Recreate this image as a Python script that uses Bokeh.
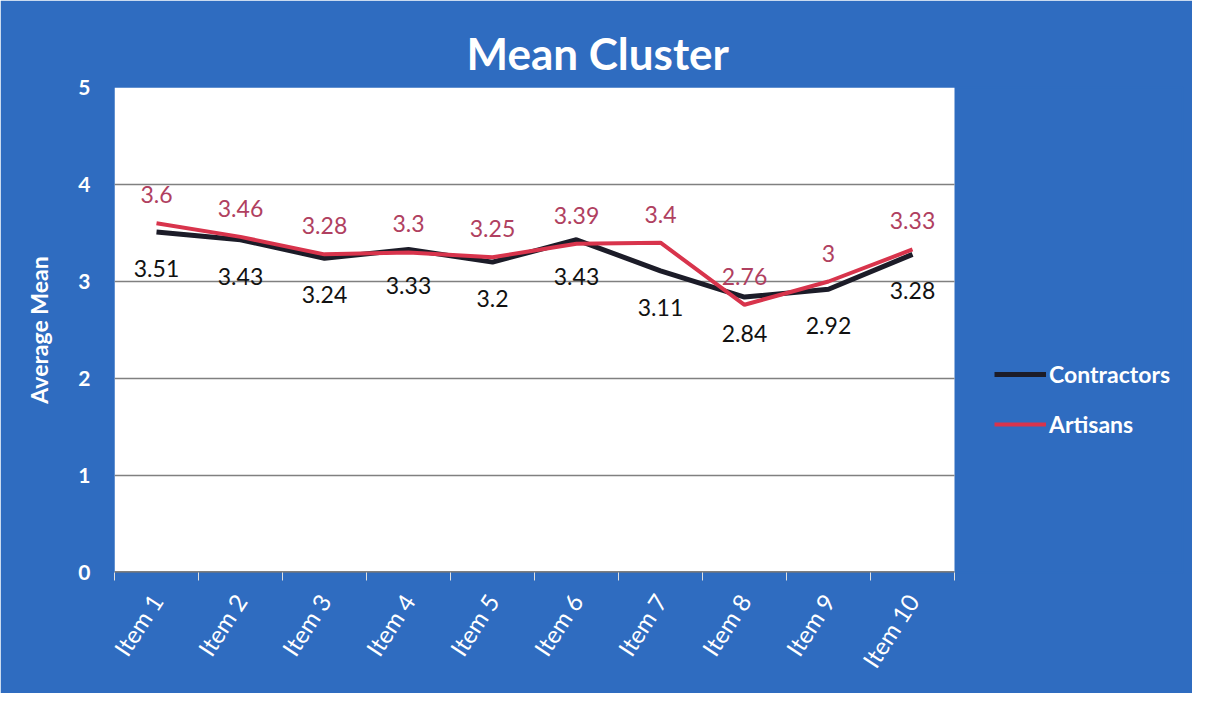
import math
from bokeh.plotting import figure
from bokeh.models import Range1d, FixedTicker, Legend, LegendItem, ColumnDataSource
from bokeh.core.properties import value
from bokeh.embed import file_html
from bokeh.resources import INLINE

items = ["Item 1", "Item 2", "Item 3", "Item 4", "Item 5",
         "Item 6", "Item 7", "Item 8", "Item 9", "Item 10"]
contractors = [3.51, 3.43, 3.24, 3.33, 3.2, 3.43, 3.11, 2.84, 2.92, 3.28]
artisans = [3.6, 3.46, 3.28, 3.3, 3.25, 3.39, 3.4, 2.76, 3.0, 3.33]
y_ticks = [0, 1, 2, 3, 4, 5]

FONT = "Lato"
BG = "#2f6cc0"

xs = list(range(1, len(items) + 1))
x_lo, x_hi = 0.5, len(items) + 0.5
y_lo, y_hi = y_ticks[0], y_ticks[-1]

# frame: white plot area 840 px wide, frame extends right to hold the legend
PLOT_W, FRAME_W = 840, 1068
x_end = x_lo + (x_hi - x_lo) * FRAME_W / PLOT_W

def fmt(v):
    return f"{v:g}"

src = ColumnDataSource(dict(
    x=xs, c=contractors, a=artisans,
    cl=[fmt(v) for v in contractors], al=[fmt(v) for v in artisans],
))

p = figure(width=1192, height=693, output_backend="svg", toolbar_location=None,
           x_range=Range1d(x_lo, x_end), y_range=Range1d(y_lo, y_hi),
           min_border_left=114, min_border_right=1192 - 114 - FRAME_W,
           min_border_top=87, min_border_bottom=121)

p.border_fill_color = BG
p.background_fill_color = BG
p.outline_line_color = BG
p.outline_line_width = 2

p.title.text = "Mean Cluster"
p.title.text_color = "white"
p.title.text_font = FONT
p.title.text_font_size = "44px"
p.title.text_font_style = "bold"
p.title.align = "left"
p.title.offset = 352
p.title.standoff = 18

# white plot area
p.quad(left=[x_lo], right=[x_hi], bottom=[y_lo], top=[y_hi],
       fill_color="white", line_color=None)

# horizontal gridlines within the plot area
grid_y = y_ticks[1:-1]
p.segment(x0=[x_lo] * len(grid_y), x1=[x_hi] * len(grid_y), y0=grid_y, y1=grid_y,
          line_color="#808080", line_width=1.3)
# x axis line
p.segment(x0=[x_lo], x1=[x_hi], y0=[y_lo], y1=[y_lo], line_color="#555555", line_width=2.5)

# axes
p.xaxis.ticker = FixedTicker(ticks=xs, minor_ticks=[x - 0.5 for x in xs] + [xs[-1] + 0.5])
p.xaxis.major_label_overrides = {x: lab for x, lab in zip(xs, items)}
p.xaxis.major_label_orientation = math.radians(57)
p.xaxis.major_label_text_color = "white"
p.xaxis.major_label_text_font = FONT
p.xaxis.major_label_text_font_size = "24px"
p.xaxis.major_label_standoff = 16
p.xaxis.major_tick_line_color = None
p.xaxis.minor_tick_line_color = "#e0e0e0"
p.xaxis.minor_tick_out = 8
p.xaxis.minor_tick_in = 0
p.xaxis.axis_line_color = None

p.yaxis.ticker = FixedTicker(ticks=y_ticks)
p.yaxis.axis_label = "Average Mean"
p.yaxis.axis_label_text_color = "white"
p.yaxis.axis_label_text_font = FONT
p.yaxis.axis_label_text_font_size = "23px"
p.yaxis.axis_label_text_font_style = "bold"
p.yaxis.axis_label_standoff = 22
p.yaxis.major_label_text_color = "white"
p.yaxis.major_label_text_font = FONT
p.yaxis.major_label_text_font_size = "21px"
p.yaxis.major_label_text_font_style = "bold"
p.yaxis.major_label_standoff = 18
p.yaxis.axis_line_color = None
p.yaxis.major_tick_line_color = None
p.yaxis.minor_tick_line_color = None

p.xgrid.grid_line_color = None
p.ygrid.grid_line_color = None

r_c = p.line("x", "c", source=src, line_color="#1c1c28", line_width=5)
r_a = p.line("x", "a", source=src, line_color="#d8344c", line_width=4)

p.text("x", "a", text="al", source=src, text_color="#b04060",
       text_font=value(FONT), text_font_size="23px",
       text_align="center", text_baseline="bottom", y_offset=-20)
p.text("x", "c", text="cl", source=src, text_color="#111111",
       text_font=value(FONT), text_font_size="23px",
       text_align="center", text_baseline="top", y_offset=28)

legend = Legend(items=[LegendItem(label="Contractors", renderers=[r_c]),
                       LegendItem(label="Artisans", renderers=[r_a])],
                location=(880, 133), orientation="vertical")
legend.background_fill_alpha = 0
legend.border_line_color = None
legend.padding = 0
legend.margin = 0
legend.spacing = 20
legend.glyph_width = 52
legend.glyph_height = 30
legend.label_height = 30
legend.label_standoff = 3
legend.label_text_color = "white"
legend.label_text_font = FONT
legend.label_text_font_size = "23px"
legend.label_text_font_style = "bold"
p.add_layout(legend, "center")

open("out.html", "w").write(file_html(p, INLINE))
